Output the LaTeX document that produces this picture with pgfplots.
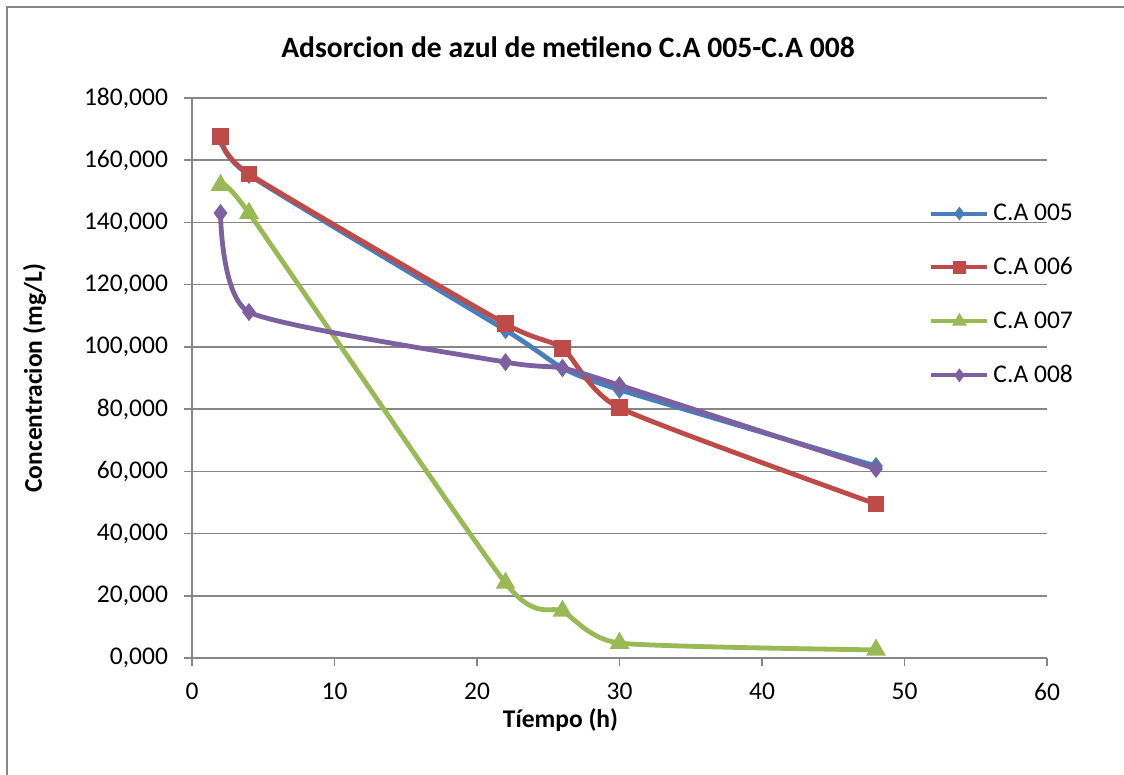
\documentclass[border=0pt]{standalone}
\usepackage{fontspec}
\setmainfont{Carlito}
\usepackage{pgfplots}
\pgfplotsset{compat=1.18}
\definecolor{cblue}{HTML}{4A7EBB}
\definecolor{cred}{HTML}{BE4B48}
\definecolor{cgreen}{HTML}{98B954}
\definecolor{cpurple}{HTML}{7D60A0}
\definecolor{cgrid}{HTML}{868686}
\begin{document}
\begin{tikzpicture}
\useasboundingbox (0,0) rectangle (562pt,387.5pt);
\draw[cgrid, line width=0.8pt] (3.5pt,0pt) -- (3.5pt,384pt) -- (562pt,384pt);
\node[font=\fontsize{14.8}{17}\selectfont\bfseries] at (284pt,364pt) {Adsorcion de azul de metileno C.A 005-C.A 008};
\begin{axis}[
  at={(96pt,58.5pt)}, anchor=south west,
  scale only axis, width=427.5pt, height=280pt,
  xmin=0, xmax=60, ymin=0, ymax=180,
  xtick={0,10,...,60}, ytick={0,20,...,180},
  axis lines*=left,
  axis line style={cgrid, line width=0.8pt},
  ymajorgrids, grid style={cgrid, line width=0.75pt},
  tick style={cgrid, line width=0.8pt},
  tick align=outside, major tick length=4pt,
  tick label style={font=\fontsize{12.75}{15}\selectfont},
  /pgf/number format/assume math mode=true,
  yticklabel style={xshift=-4.5pt, /pgf/number format/.cd, fixed, fixed zerofill, precision=3, use comma, 1000 sep={}},
  xticklabel style={yshift=-5pt, /pgf/number format/.cd, fixed, precision=0},
  xlabel={\bfseries Tíempo (h)},
  ylabel={\bfseries Concentracion (mg/L)},
  label style={font=\fontsize{12.75}{15}\selectfont},
  xlabel style={yshift=3pt, xshift=-29.5pt},
  ylabel style={yshift=12pt},
  every axis plot/.append style={line width=2.4pt, smooth, tension=0.35},
  legend style={at={(0.862,0.819)}, anchor=north west, draw=none, fill=none,
    font=\fontsize{12.75}{15}\selectfont, row sep=13pt, inner sep=0pt},
  legend cell align=left,
  legend image code/.code={\draw[line width=2pt, mark repeat=2,mark phase=2, every mark/.append style={scale=0.7}] plot coordinates {(0pt,0pt) (14pt,0pt) (28pt,0pt)};},
  clip=false,
]
\addplot[cblue, mark=diamond*, mark size=2.6pt, mark options={solid}] coordinates {
 (2,167.1) (4,155.3) (22,105.4) (26,93.2) (30,86.2) (48,61.7)};
\addlegendentry{C.A 005}
\addplot[cred, mark=square*, mark size=3pt, mark options={solid}] coordinates {
 (2,167.5) (4,155.6) (22,107.4) (26,99.6) (30,80.4) (48,49.5)};
\addlegendentry{C.A 006}
\addplot[cgreen, mark=triangle*, mark size=3.3pt, mark options={solid}] coordinates {
 (2,152) (4,143) (22,24.1) (26,15.1) (30,4.8) (48,2.6)};
\addlegendentry{C.A 007}
\addplot[cpurple, mark=diamond*, mark size=2.6pt, mark options={solid}] coordinates {
 (2,143) (4,111.2) (22,95.1) (26,93.2) (30,87.7) (48,60.8)};
\addlegendentry{C.A 008}
\end{axis}
\end{tikzpicture}
\end{document}
